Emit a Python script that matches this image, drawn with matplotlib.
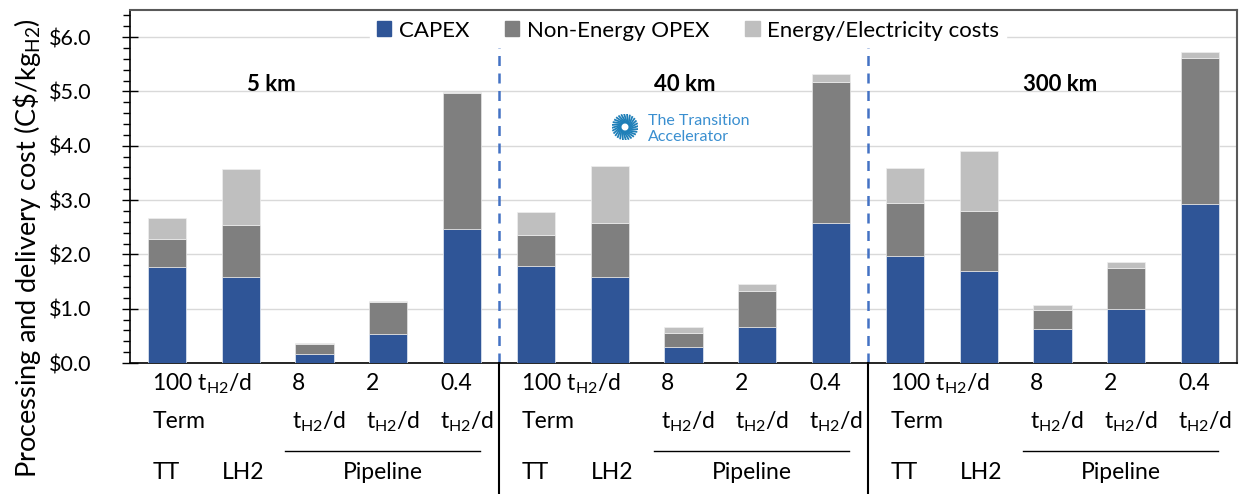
import matplotlib
matplotlib.use("Agg")
import matplotlib.pyplot as plt
from matplotlib.patches import Patch
from matplotlib.ticker import MultipleLocator, FuncFormatter
import matplotlib.transforms as mtransforms
import numpy as np

plt.rcParams["font.family"] = ["Lato", "DejaVu Sans"]
plt.rcParams["mathtext.fontset"] = "custom"
plt.rcParams["mathtext.rm"] = "Lato"

# ======================
# Data (C$/kg H2)
# ======================
distances = ["5 km", "40 km", "300 km"]
capex = [1.76, 1.58, 0.17, 0.53, 2.47,
         1.78, 1.59, 0.29, 0.66, 2.58,
         1.97, 1.69, 0.62, 0.99, 2.93]
opex = [0.52, 0.96, 0.18, 0.60, 2.51,
        0.57, 0.98, 0.26, 0.66, 2.60,
        0.98, 1.11, 0.36, 0.76, 2.68]
energy = [0.39, 1.03, 0.02, 0.02, 0.01,
          0.43, 1.06, 0.11, 0.13, 0.15,
          0.64, 1.11, 0.09, 0.11, 0.12]

row1 = ["100 t$_{\\mathregular{H2}}$/d", "", "8", "2", "0.4"]
row2 = ["Term", "", "t$_{\\mathregular{H2}}$/d", "t$_{\\mathregular{H2}}$/d", "t$_{\\mathregular{H2}}$/d"]
row3 = ["TT", "LH2"]

C_CAPEX = "#2F5597"
C_OPEX = "#7F7F7F"
C_ENERGY = "#BFBFBF"

fig = plt.figure(figsize=(12.39, 4.94), dpi=100, facecolor="white")
ax = fig.add_axes([130 / 1239, 1 - 363 / 494, 1107 / 1239, 353 / 494])

x = np.arange(len(capex))
capex = np.array(capex)
opex = np.array(opex)
energy = np.array(energy)
w = 0.52
ax.bar(x, capex, w, color=C_CAPEX, edgecolor="#E6ECF5", linewidth=0.5, zorder=3)
ax.bar(x, opex, w, bottom=capex, color=C_OPEX, edgecolor="#E6E6E6", linewidth=0.5, zorder=3)
ax.bar(x, energy, w, bottom=capex + opex, color=C_ENERGY, edgecolor="#EEEEEE", linewidth=0.5, zorder=3)

ax.set_xlim(-0.5, 14.5)
ax.set_ylim(0, 6.5)
ax.yaxis.set_major_locator(MultipleLocator(1))
ax.yaxis.set_minor_locator(MultipleLocator(0.2))
ax.yaxis.set_major_formatter(FuncFormatter(lambda v, p: f"${v:.1f}"))
ax.set_xticks([])
ax.grid(axis="y", color="#D9D9D9", linewidth=1, zorder=0)
ax.tick_params(axis="y", which="major", direction="inout", length=11, width=1, labelsize=15.5, pad=22)
ax.tick_params(axis="y", which="minor", direction="out", length=5, width=1)
for s in ["top", "right"]:
    ax.spines[s].set_color("#595959")
    ax.spines[s].set_linewidth(1.5)
for s in ["left", "bottom"]:
    ax.spines[s].set_color("black")
    ax.spines[s].set_linewidth(1.2)

fig.text(27 / 1239, 1 - 248 / 494, "Processing and delivery cost (C\\$/kg$_{\\mathregular{H2}}$)",
         rotation=90, ha="center", va="center", fontsize=19.5)

trans = mtransforms.blended_transform_factory(ax.transData, ax.transAxes)

# separators
for xs in [4.5, 9.5]:
    ax.plot([xs, xs], [0, 0.955], color="#4472C4", linestyle=(0, (4, 3)), linewidth=1.8,
            transform=trans, zorder=2)
    ax.plot([xs, xs], [0, -0.38], color="black", linewidth=1.5, transform=trans, clip_on=False)

# group labels
label_x = [1.42, 7.02, 12.1]
for g, name in enumerate(distances):
    base = g * 5
    ax.text(label_x[g], 0.79, name, transform=trans, ha="center", va="center",
            fontsize=16, fontweight="bold", zorder=5)
    for i in range(5):
        xc = base + i
        off = -0.2 if i == 0 else -0.3
        ax.text(xc + off, -0.057, row1[i], transform=trans, ha="left", va="center", fontsize=16.5)
        ax.text(xc + off, -0.165, row2[i], transform=trans, ha="left", va="center", fontsize=16.5)
    ax.text(base - 0.2, -0.31, row3[0], transform=trans, ha="left", va="center", fontsize=16.5)
    ax.text(base + 1 - 0.25, -0.31, row3[1], transform=trans, ha="left", va="center", fontsize=16.5)
    ax.plot([base + 2 - 0.4, base + 4 + 0.24], [-0.248, -0.248], color="black", linewidth=1,
            transform=trans, clip_on=False)
    ax.text(base + 2.93, -0.31, "Pipeline", transform=trans, ha="center", va="center", fontsize=16.5)

# legend
handles = [Patch(color=C_CAPEX), Patch(color=C_OPEX), Patch(color=C_ENERGY)]
leg = ax.legend(handles, ["CAPEX", "Non-Energy OPEX", "Energy/Electricity costs"],
                loc="upper center", bbox_to_anchor=(0.504, 1.02), ncol=3, frameon=True,
                fontsize=16, handlelength=0.65, handleheight=0.65, handletextpad=0.35,
                columnspacing=1.6, borderpad=0.3, fancybox=False)
leg.get_frame().set_edgecolor("white")
leg.get_frame().set_facecolor("white")
leg.get_frame().set_alpha(1)
leg.set_zorder(6)

# logo
iax = fig.add_axes([612 / 1239, 1 - 140 / 494, 26 / 1239, 26 / 494])
iax.set_xlim(-1, 1)
iax.set_ylim(-1, 1)
iax.axis("off")
for a in np.linspace(0, 2 * np.pi, 28, endpoint=False):
    iax.plot([0.35 * np.cos(a), 0.95 * np.cos(a + 0.5)],
             [0.35 * np.sin(a), 0.95 * np.sin(a + 0.5)], color="#1F7FB8", linewidth=1.3)
fig.text(648 / 1239, 1 - 121 / 494, "The Transition", color="#3A8FD0", fontsize=11.5, va="center")
fig.text(648 / 1239, 1 - 137 / 494, "Accelerator", color="#3A8FD0", fontsize=11.5, va="center")

fig.savefig("out.png", dpi=100, facecolor="white")
